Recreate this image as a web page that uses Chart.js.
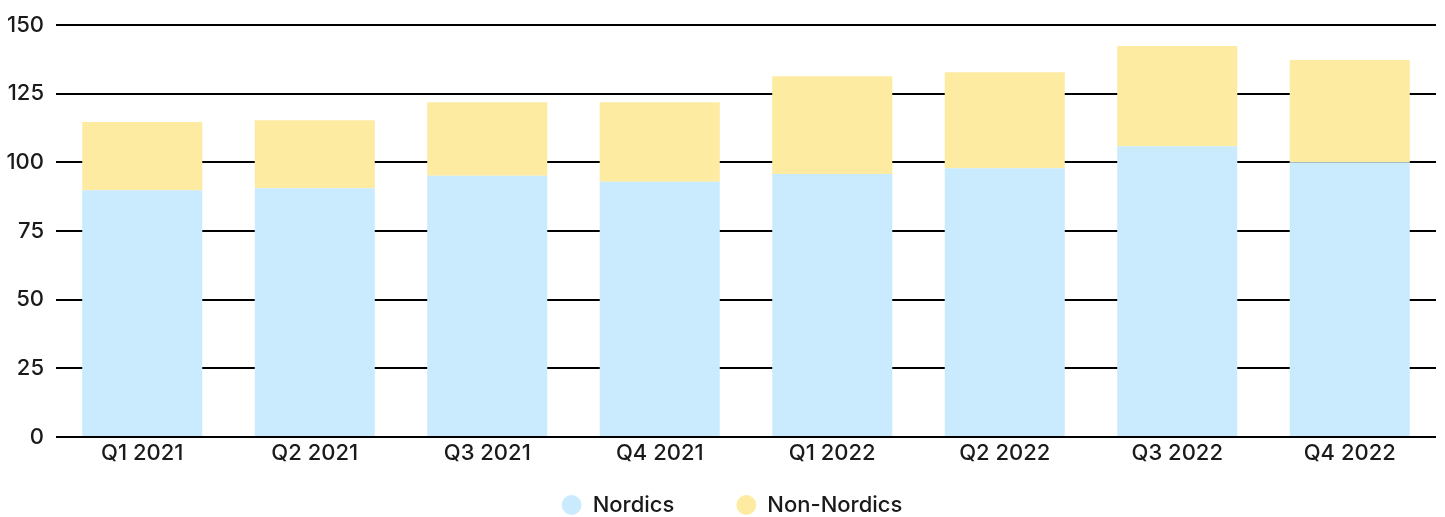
<!DOCTYPE html>
<html>
<head>
<meta charset="utf-8">
<script src="https://cdn.jsdelivr.net/npm/chart.js@4/dist/chart.umd.min.js"></script>
<style>
html,body{margin:0;padding:0;background:#fff;}
#wrap{width:1445px;height:517px;position:relative;}
</style>
</head>
<body>
<div id="wrap"><canvas id="c" width="1445" height="517"></canvas></div>
<script>
const categories = ["Q1 2021","Q2 2021","Q3 2021","Q4 2021","Q1 2022","Q2 2022","Q3 2022","Q4 2022"];
const nordics = [89.9, 90.6, 95.2, 93.0, 95.8, 97.9, 105.9, 100.1];
const nonNordics = [24.8, 24.8, 26.7, 28.9, 35.6, 35.0, 36.5, 37.2];
const yTicks = [0, 25, 50, 75, 100, 125, 150];

const FONT = "Inter, 'DejaVu Sans', sans-serif";
const TEXT = "#1a1a1a";

const legendPlace = {
  id: 'legendPlace',
  afterLayout(chart) {
    const lg = chart.legend;
    if (!lg) return;
    lg.top = 432;
    lg.bottom = 517;
    lg.height = lg.bottom - lg.top;
    lg.left += 14; lg.right += 14;
  }
};

new Chart(document.getElementById('c'), {
  type: 'bar',
  data: {
    labels: categories,
    datasets: [
      { label: 'Nordics', data: nordics, backgroundColor: '#caebfd', borderWidth: 0, barPercentage: 1, categoryPercentage: 0.696 },
      { label: 'Non-Nordics', data: nonNordics, backgroundColor: '#fdeba2', borderWidth: 0, barPercentage: 1, categoryPercentage: 0.696 }
    ]
  },
  options: {
    responsive: false,
    animation: false,
    layout: { padding: { top: 12, right: 9, left: 0, bottom: 0 } },
    plugins: {
      tooltip: { enabled: false },
      legend: {
        position: 'bottom',
        maxHeight: 45,
        labels: {
          usePointStyle: true,
          pointStyle: 'circle',
          boxWidth: 20,
          boxHeight: 14,
          padding: 62,
          color: TEXT,
          font: { family: FONT, size: 22, weight: '500' }
        }
      }
    },
    scales: {
      x: {
        stacked: true,
        grid: { display: false, drawTicks: false },
        border: { display: false },
        ticks: { color: TEXT, font: { family: FONT, size: 22, weight: '500' }, padding: 3, maxRotation: 0 },
        afterFit(s) { s.height = 35; }
      },
      y: {
        stacked: true,
        min: 0, max: 150,
        afterBuildTicks(s) { s.ticks = yTicks.map(v => ({ value: v })); },
        grid: { color: '#000', lineWidth: 2, drawTicks: false },
        border: { display: false },
        ticks: { color: TEXT, font: { family: FONT, size: 22, weight: '500' }, padding: 12 },
        afterFit(s) { s.width = 56; }
      }
    }
  },
  plugins: [legendPlace]
});
</script>
</body>
</html>
